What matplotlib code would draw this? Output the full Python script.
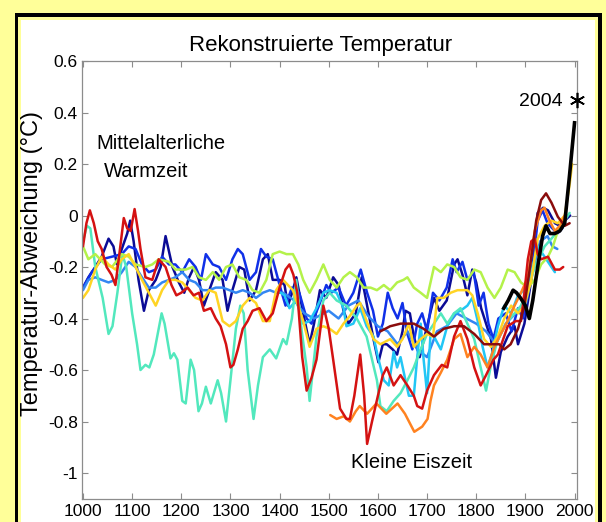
import matplotlib
matplotlib.use("Agg")
import matplotlib.pyplot as plt
from matplotlib.patches import Rectangle

plt.rcParams['font.family'] = ['Liberation Sans', 'DejaVu Sans']

# ---------------- data (year, anomaly in degC) ----------------
jones1998 = [(1000,-0.28),(1011,-0.24),(1025,-0.20),(1038,-0.16),(1052,-0.09),(1062,-0.12),(1069,-0.19),(1079,-0.13),
             (1090,-0.07),(1096,-0.02),(1103,-0.10),(1113,-0.25),(1124,-0.37),(1134,-0.29),(1148,-0.25),(1158,-0.20),
             (1168,-0.08),(1182,-0.20),(1195,-0.26),(1206,-0.30),(1216,-0.24),(1226,-0.20),(1236,-0.25),(1246,-0.35),
             (1257,-0.29),(1270,-0.22),(1284,-0.25),(1294,-0.37),(1304,-0.29),(1318,-0.20),(1328,-0.21),(1339,-0.33),
             (1352,-0.29),(1366,-0.17),(1376,-0.15),(1386,-0.25),(1400,-0.25),(1410,-0.27),(1417,-0.35),(1427,-0.29),
             (1434,-0.24),(1448,-0.38),(1461,-0.50),(1470,-0.42),(1482,-0.29),(1495,-0.32),(1509,-0.24),(1520,-0.27),
             (1530,-0.37),(1540,-0.42),(1555,-0.38),(1567,-0.24),(1578,-0.35),(1591,-0.48),(1601,-0.57),(1610,-0.50),
             (1618,-0.50),(1630,-0.52),(1639,-0.54),(1650,-0.45),(1656,-0.37),(1665,-0.38),(1673,-0.47),(1685,-0.55),
             (1695,-0.47),(1714,-0.32),(1725,-0.37),(1740,-0.33),(1755,-0.19),(1762,-0.17),(1772,-0.23),(1782,-0.31),
             (1792,-0.21),(1800,-0.26),(1810,-0.36),(1820,-0.42),(1830,-0.48),(1840,-0.63),(1850,-0.53),(1864,-0.47),
             (1878,-0.43),(1885,-0.50),(1898,-0.42),(1912,-0.25),(1925,0.01),(1936,0.03),(1946,0.02),(1960,-0.03),
             (1970,-0.04),(1980,-0.02),(1991,0.00)]

mann1999 = [(1000,-0.28),(1018,-0.22),(1038,-0.17),(1059,-0.16),(1079,-0.15),(1093,-0.12),(1107,-0.13),(1120,-0.19),
            (1134,-0.22),(1148,-0.21),(1161,-0.16),(1175,-0.19),(1188,-0.19),(1202,-0.22),(1216,-0.17),(1229,-0.20),
            (1240,-0.25),(1250,-0.15),(1264,-0.19),(1277,-0.20),(1291,-0.25),(1304,-0.17),(1315,-0.13),(1325,-0.15),
            (1339,-0.25),(1352,-0.22),(1362,-0.13),(1373,-0.16),(1386,-0.17),(1400,-0.27),(1412,-0.35),(1425,-0.28),
            (1440,-0.30),(1455,-0.40),(1465,-0.42),(1480,-0.35),(1495,-0.27),(1505,-0.30),(1520,-0.28),(1535,-0.35),
            (1550,-0.30),(1565,-0.21),(1578,-0.30),(1590,-0.37),(1600,-0.47),(1610,-0.42),(1620,-0.30),(1630,-0.36),
            (1640,-0.40),(1650,-0.34),(1660,-0.46),(1670,-0.52),(1680,-0.42),(1690,-0.38),(1700,-0.45),(1712,-0.30),
            (1725,-0.33),(1740,-0.28),(1752,-0.17),(1760,-0.22),(1772,-0.18),(1782,-0.25),(1795,-0.22),(1805,-0.35),
            (1815,-0.30),(1825,-0.42),(1835,-0.48),(1845,-0.40),(1860,-0.38),(1872,-0.45),(1885,-0.36),(1895,-0.40),
            (1905,-0.30),(1915,-0.20),(1925,-0.02),(1935,0.02),(1945,-0.03),(1955,-0.05),(1965,-0.07),(1975,-0.05),
            (1980,-0.02)]

crowley2000 = [(1000,-0.29),(1011,-0.25),(1025,-0.24),(1038,-0.25),(1052,-0.26),(1066,-0.25),(1079,-0.22),(1093,-0.18),
               (1107,-0.20),(1120,-0.24),(1134,-0.28),(1148,-0.28),(1161,-0.26),(1175,-0.25),(1188,-0.24),(1202,-0.22),
               (1216,-0.25),(1229,-0.26),(1243,-0.29),(1257,-0.29),(1270,-0.28),(1284,-0.28),(1298,-0.29),(1311,-0.30),
               (1325,-0.29),(1339,-0.30),(1352,-0.32),(1366,-0.30),(1380,-0.29),(1393,-0.30),(1407,-0.30),(1430,-0.33),
               (1450,-0.38),(1470,-0.40),(1500,-0.37),(1520,-0.40),(1540,-0.35),(1560,-0.33),(1580,-0.39),(1600,-0.43),
               (1620,-0.45),(1640,-0.50),(1660,-0.45),(1680,-0.52),(1700,-0.55),(1720,-0.45),(1740,-0.43),(1760,-0.38),
               (1780,-0.40),(1800,-0.42),(1820,-0.45),(1840,-0.50),(1860,-0.42),(1880,-0.38),(1900,-0.35),(1915,-0.22),
               (1930,-0.10),(1945,-0.08),(1955,-0.12),(1965,-0.13)]

briffa2001 = [(1402,-0.30),(1410,-0.31),(1420,-0.36),(1434,-0.33),(1448,-0.42),(1461,-0.41),(1475,-0.36),(1489,-0.30),
              (1502,-0.29),(1516,-0.30),(1530,-0.36),(1536,-0.43),(1550,-0.42),(1564,-0.36),(1577,-0.43),(1591,-0.47),
              (1600,-0.55),(1612,-0.64),(1622,-0.66),(1632,-0.53),(1639,-0.59),(1646,-0.55),(1656,-0.64),(1663,-0.70),
              (1673,-0.70),(1680,-0.55),(1687,-0.42),(1693,-0.56),(1700,-0.69),(1707,-0.46),(1714,-0.47),(1728,-0.52),
              (1741,-0.43),(1755,-0.38),(1768,-0.37),(1782,-0.35),(1792,-0.32),(1803,-0.41),(1813,-0.51),(1823,-0.59),
              (1833,-0.53),(1844,-0.43),(1857,-0.35),(1871,-0.38),(1885,-0.31),(1898,-0.29),(1912,-0.22),(1925,-0.12),
              (1939,-0.16),(1953,-0.20),(1960,-0.22)]

esper2002 = [(1000,-0.10),(1008,-0.04),(1015,-0.05),(1025,-0.20),(1040,-0.32),(1052,-0.46),(1060,-0.43),(1070,-0.30),
             (1080,-0.15),(1088,-0.20),(1100,-0.38),(1110,-0.50),(1117,-0.60),(1127,-0.58),(1135,-0.59),(1144,-0.54),
             (1152,-0.46),(1160,-0.38),(1166,-0.42),(1178,-0.555),(1185,-0.535),(1192,-0.56),(1202,-0.72),(1209,-0.73),
             (1219,-0.56),(1226,-0.60),(1235,-0.76),(1242,-0.73),(1250,-0.665),(1260,-0.73),(1274,-0.64),(1281,-0.69),
             (1291,-0.80),(1300,-0.64),(1311,-0.44),(1320,-0.35),(1327,-0.38),(1335,-0.60),(1347,-0.79),(1356,-0.66),
             (1366,-0.55),(1380,-0.52),(1393,-0.555),(1407,-0.48),(1414,-0.50),(1425,-0.40),(1434,-0.25),(1445,-0.45),
             (1455,-0.59),(1461,-0.72),(1475,-0.47),(1489,-0.33),(1502,-0.30),(1516,-0.33),(1536,-0.35),(1557,-0.40),
             (1577,-0.47),(1598,-0.64),(1605,-0.74),(1618,-0.76),(1632,-0.72),(1646,-0.69),(1660,-0.64),(1673,-0.59),
             (1687,-0.52),(1700,-0.46),(1714,-0.42),(1728,-0.38),(1741,-0.42),(1755,-0.38),(1768,-0.36),(1782,-0.42),
             (1796,-0.48),(1809,-0.59),(1820,-0.68),(1830,-0.58),(1844,-0.48),(1864,-0.41),(1878,-0.38),(1891,-0.35),
             (1905,-0.29),(1919,-0.20),(1939,-0.12),(1953,-0.09),(1966,-0.06),(1983,-0.01),(1990,0.01)]

mannjones2003 = [(1000,-0.12),(1011,-0.17),(1025,-0.15),(1045,-0.19),(1059,-0.20),(1079,-0.15),(1093,-0.16),(1107,-0.19),
                 (1127,-0.20),(1141,-0.19),(1154,-0.17),(1175,-0.18),(1188,-0.21),(1209,-0.21),(1223,-0.20),(1236,-0.24),
                 (1250,-0.25),(1264,-0.22),(1277,-0.25),(1291,-0.20),(1304,-0.19),(1318,-0.24),(1332,-0.25),(1345,-0.29),
                 (1359,-0.30),(1373,-0.25),(1386,-0.15),(1400,-0.14),(1414,-0.15),(1427,-0.15),(1438,-0.19),(1448,-0.25),
                 (1461,-0.30),(1475,-0.25),(1489,-0.19),(1502,-0.25),(1516,-0.28),(1530,-0.24),(1543,-0.22),(1557,-0.24),
                 (1571,-0.28),(1585,-0.28),(1598,-0.29),(1612,-0.27),(1625,-0.29),(1639,-0.26),(1652,-0.25),(1660,-0.24),
                 (1673,-0.28),(1687,-0.30),(1700,-0.32),(1714,-0.20),(1728,-0.22),(1741,-0.19),(1755,-0.20),(1768,-0.24),
                 (1782,-0.25),(1796,-0.21),(1809,-0.22),(1823,-0.28),(1837,-0.32),(1850,-0.28),(1864,-0.21),(1878,-0.22),
                 (1891,-0.26),(1905,-0.28),(1919,-0.25),(1932,-0.19),(1946,-0.16),(1956,-0.12),(1966,-0.06),(1980,-0.01)]

jonesmann2004 = [(1000,-0.32),(1011,-0.29),(1025,-0.21),(1038,-0.16),(1052,-0.19),(1066,-0.21),(1079,-0.17),(1093,-0.15),
                 (1107,-0.20),(1120,-0.25),(1134,-0.30),(1148,-0.35),(1161,-0.29),(1175,-0.25),(1188,-0.25),(1202,-0.26),
                 (1216,-0.29),(1229,-0.32),(1243,-0.33),(1257,-0.29),(1270,-0.30),(1284,-0.41),(1298,-0.43),(1311,-0.41),
                 (1325,-0.35),(1339,-0.32),(1352,-0.34),(1366,-0.41),(1380,-0.41),(1393,-0.29),(1407,-0.25),(1427,-0.29),
                 (1448,-0.41),(1461,-0.51),(1475,-0.44),(1489,-0.43),(1502,-0.44),(1516,-0.46),(1530,-0.42),(1543,-0.39),
                 (1557,-0.35),(1564,-0.34),(1577,-0.41),(1591,-0.48),(1605,-0.50),(1625,-0.48),(1639,-0.51),(1650,-0.48),
                 (1663,-0.42),(1673,-0.51),(1687,-0.48),(1700,-0.46),(1712,-0.47),(1721,-0.32),(1734,-0.32),(1748,-0.30),
                 (1762,-0.29),(1782,-0.29),(1792,-0.31),(1803,-0.38),(1816,-0.48),(1830,-0.51),(1844,-0.47),(1857,-0.40),
                 (1871,-0.35),(1885,-0.38),(1898,-0.35),(1912,-0.25),(1925,-0.09),(1939,-0.04),(1953,-0.02),(1966,-0.03),
                 (1980,0.00),(1990,0.12),(1995,0.20)]

huang2004 = [(1503,-0.775),(1516,-0.79),(1530,-0.78),(1543,-0.80),(1555,-0.76),(1563,-0.74),(1578,-0.77),(1597,-0.73),
             (1617,-0.77),(1640,-0.73),(1655,-0.77),(1674,-0.84),(1690,-0.82),(1701,-0.79),(1707,-0.72),(1714,-0.66),
             (1728,-0.61),(1741,-0.56),(1755,-0.48),(1768,-0.46),(1782,-0.55),(1796,-0.51),(1809,-0.54),(1823,-0.59),
             (1837,-0.51),(1850,-0.46),(1864,-0.41),(1878,-0.35),(1891,-0.30),(1905,-0.24),(1919,-0.06),(1932,0.02),
             (1939,0.03),(1949,-0.02),(1960,-0.06),(1970,-0.04),(1980,0.00)]

moberg2005 = [(1000,-0.12),(1007,-0.03),(1014,0.02),(1022,-0.03),(1030,-0.10),(1038,-0.13),(1048,-0.20),(1058,-0.23),
              (1066,-0.27),(1074,-0.15),(1083,-0.01),(1090,-0.05),(1097,-0.06),(1105,0.025),(1112,-0.06),(1117,-0.13),
              (1127,-0.24),(1141,-0.25),(1154,-0.17),(1168,-0.20),(1180,-0.27),(1190,-0.31),(1200,-0.30),(1213,-0.28),
              (1225,-0.31),(1236,-0.30),(1246,-0.37),(1260,-0.36),(1270,-0.40),(1280,-0.43),(1291,-0.50),(1300,-0.59),
              (1306,-0.58),(1315,-0.52),(1325,-0.44),(1335,-0.41),(1345,-0.37),(1359,-0.36),(1373,-0.41),(1386,-0.38),
              (1400,-0.28),(1412,-0.21),(1420,-0.19),(1428,-0.23),(1436,-0.30),(1446,-0.55),(1455,-0.68),(1465,-0.63),
              (1475,-0.56),(1489,-0.35),(1500,-0.44),(1509,-0.56),(1523,-0.75),(1536,-0.79),(1543,-0.79),(1552,-0.70),
              (1564,-0.54),(1572,-0.70),(1578,-0.887),(1588,-0.80),(1600,-0.70),(1610,-0.62),(1618,-0.59),(1632,-0.66),
              (1646,-0.62),(1660,-0.66),(1673,-0.70),(1680,-0.74),(1690,-0.75),(1700,-0.68),(1714,-0.62),(1730,-0.58),
              (1741,-0.59),(1755,-0.47),(1768,-0.41),(1782,-0.48),(1796,-0.59),(1809,-0.66),(1820,-0.62),(1835,-0.56),
              (1844,-0.54),(1864,-0.43),(1880,-0.41),(1891,-0.41),(1898,-0.30),(1905,-0.17),(1912,-0.10),(1919,-0.09),
              (1925,-0.15),(1932,-0.17),(1946,-0.16),(1960,-0.21),(1970,-0.21),(1977,-0.20)]

oerlemans2005 = [(1605,-0.45),(1625,-0.43),(1646,-0.42),(1673,-0.42),(1693,-0.44),(1714,-0.47),(1734,-0.44),(1755,-0.43),
                 (1775,-0.43),(1796,-0.46),(1816,-0.50),(1837,-0.50),(1847,-0.50),(1857,-0.52),(1870,-0.50),(1885,-0.44),
                 (1898,-0.35),(1908,-0.22),(1922,-0.02),(1932,0.06),(1942,0.086),(1953,0.05),(1966,-0.005),(1980,-0.04),
                 (1990,-0.03)]

instrumental = [(1856,-0.36),(1865,-0.33),(1875,-0.29),(1882,-0.30),(1890,-0.32),(1900,-0.35),(1908,-0.40),(1915,-0.33),
                (1925,-0.20),(1935,-0.08),(1942,-0.04),(1950,-0.07),(1960,-0.07),(1970,-0.06),(1980,-0.03),(1990,0.16),
                (2000,0.36)]

marker_2004 = (2004, 0.45)

series = [jones1998, mann1999, crowley2000, briffa2001, esper2002, mannjones2003,
          jonesmann2004, huang2004, moberg2005, oerlemans2005]
colors = ['#0b0b96', '#1030e8', '#3386f2', '#22c6f5', '#52e8bd', '#b4f24a',
          '#ffd424', '#ff8220', '#d41212', '#8a0c0c']

x_ticks = [1000, 1100, 1200, 1300, 1400, 1500, 1600, 1700, 1800, 1900, 2000]
y_ticks = [-1, -0.8, -0.6, -0.4, -0.2, 0, 0.2, 0.4, 0.6]
y_ticklabels = ['-1', '-0.8', '-0.6', '-0.4', '-0.2', '0', '0.2', '0.4', '0.6']

# ---------------- figure & frame ----------------
W, H = 606, 522
fig = plt.figure(figsize=(W / 100, H / 100), dpi=100, facecolor='#ffff99')

def frac_rect(x0, x1, ytop, color):
    return Rectangle((x0 / W, -0.05), (x1 - x0) / W, 1 - ytop / H + 0.05,
                     transform=fig.transFigure, facecolor=color, edgecolor='none', zorder=-10)

fig.patches.append(frac_rect(15, 602, 13, '#000000'))
fig.patches.append(frac_rect(18, 598, 17, '#ffff99'))
fig.patches.append(frac_rect(21, 595, 20, '#ffffff'))

ax_l, ax_r, ax_t, ax_b = 82, 577, 61, 498.75
ax = fig.add_axes([ax_l / W, 1 - ax_b / H, (ax_r - ax_l) / W, (ax_b - ax_t) / H])
ax.set_facecolor('white')

for data, c in zip(series, colors):
    xs = [p[0] for p in data]
    ys = [p[1] for p in data]
    ax.plot(xs, ys, color=c, lw=1.8, solid_joinstyle='round', solid_capstyle='round')

ax.plot([p[0] for p in instrumental], [p[1] for p in instrumental], color='black', lw=2.6,
        solid_joinstyle='round')
ax.plot([marker_2004[0]], [marker_2004[1]], marker=(6, 2, 0), color='black', markersize=11,
        mew=1.2, clip_on=False, zorder=5)

ax.set_xlim(998, 2005)
ax.set_ylim(-1.1, 0.6)
ax.set_xticks(x_ticks)
ax.set_xticklabels([str(t) for t in x_ticks])
ax.set_yticks(y_ticks)
ax.set_yticklabels(y_ticklabels)

for s in ax.spines.values():
    s.set_color('#8c8c8c')
    s.set_linewidth(0.9)
ax.tick_params(direction='in', length=4, width=0.8, color='#8c8c8c', labelsize=12.5,
               top=True, right=True, labelcolor='black')
ax.tick_params(axis='y', pad=3)
ax.tick_params(axis='x', pad=4)

# ---------------- texts ----------------
fig.text(321 / W, 1 - 46 / H, 'Rekonstruierte Temperatur', ha='center', va='center', fontsize=16)
fig.text(32 / W, 1 - 264 / H, 'Temperatur-Abweichung (°C)', ha='center', va='center',
         rotation=90, fontsize=17)
ax.text(0.030, 0.812, 'Mittelalterliche', transform=ax.transAxes, ha='left', va='center', fontsize=14.5)
ax.text(0.044, 0.747, 'Warmzeit', transform=ax.transAxes, ha='left', va='center', fontsize=14.5)
ax.text(0.665, 0.082, 'Kleine Eiszeit', transform=ax.transAxes, ha='center', va='center', fontsize=14.5)
ax.text(0.970, 0.907, '2004', transform=ax.transAxes, ha='right', va='center', fontsize=14)

fig.savefig('out.png', dpi=100, facecolor=fig.get_facecolor())
